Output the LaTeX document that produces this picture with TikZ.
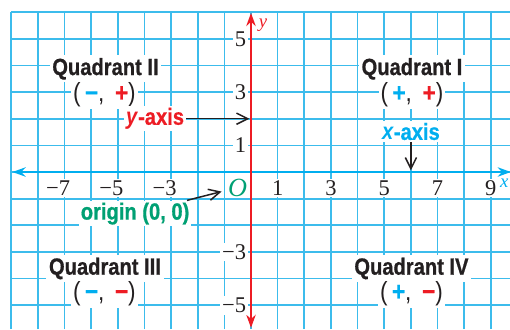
\documentclass[tikz,border=0pt]{standalone}
\usepackage{fontspec}
\setmainfont{Liberation Serif}
\newfontfamily\condsans[FakeStretch=0.86,BoldFeatures={FakeBold=0.7}]{Liberation Sans}
\usetikzlibrary{arrows.meta}
\definecolor{gridblue}{RGB}{60,188,236}
\definecolor{axisblue}{RGB}{0,174,239}
\definecolor{axisred}{RGB}{237,28,36}
\definecolor{origgreen}{RGB}{0,160,115}
\definecolor{inkblack}{RGB}{35,31,32}

\begin{document}
\begin{tikzpicture}[x=0.5cm,y=0.5cm,font=\fontsize{12}{14}\selectfont,
  lbl/.style={fill=white,inner sep=1pt,text=inkblack},
  quad/.style={fill=white,inner sep=1.5pt,text=inkblack,font=\condsans\bfseries\fontsize{12.5}{14}\selectfont},
  sgn/.style={fill=white,inner sep=1pt,text=inkblack,font=\condsans\fontsize{14}{16}\selectfont},
  callout/.style={fill=white,inner sep=1pt,font=\condsans\bfseries\fontsize{12.5}{14}\selectfont},
  pointer/.style={-{Straight Barb[length=6pt,width=6pt]},line width=0.8pt,inkblack},
  axistip/.tip={Stealth[length=7pt,width=5pt]}]
 \clip (-9.418,-5.891) rectangle (9.718,6.454);
 \draw[gridblue,line width=0.9pt,step=1] (-9,-5.891) grid (9.718,6);
 % axes
 \coordinate (xl) at (-8.95,0); \coordinate (xr) at (9.75,0);
 \coordinate (yb) at (0,-5.85); \coordinate (yt) at (0,5.97);
 \draw[axisblue,line width=1.35pt,axistip-axistip] (xl) -- (xr);
 \draw[axisred,line width=1.6pt,axistip-axistip] (yb) -- (yt);
 \node[text=axisblue,font=\itshape,inner sep=0.5pt] (xname) at (9.5,-0.42) {x};
 \node[text=axisred,font=\itshape] (yname) at (0.45,5.5) {y};
 % tick labels
 \foreach \n in {7,5,3}{\node[lbl] (xm\n) at (-\n,-0.6) {\llap{−}\n};}
 \foreach \n in {1,3,5,7,9}{\node[lbl] (xp\n) at (\n,-0.6) {\n};}
 \foreach \n in {1,3,5}{\node[lbl,anchor=east] (yp\n) at (-0.1,\n) {\n};}
 \foreach \n in {3,5}{\node[lbl,anchor=east] (ym\n) at (-0.1,-\n) {−\n};}
 \node[text=origgreen,font=\itshape\fontsize{14}{16}\selectfont] (O) at (-0.5,-0.58) {O};
 % quadrants
 \node[quad] (q1) at (6.04,3.87) {Quadrant I};
 \node[sgn] (s1) at (6.04,2.9) {(\,\textcolor{axisblue}{\bfseries +},\, \textcolor{axisred}{\bfseries +})};
 \node[quad] (q2) at (-5.46,3.87) {Quadrant II};
 \node[sgn] (s2) at (-5.5,2.9) {(\,\textcolor{axisblue}{\bfseries −},\, \textcolor{axisred}{\bfseries +})};
 \node[quad] (q3) at (-5.48,-3.62) {Quadrant III};
 \node[sgn] (s3) at (-5.5,-4.56) {(\,\textcolor{axisblue}{\bfseries −},\, \textcolor{axisred}{\bfseries −})};
 \node[quad] (q4) at (6.02,-3.62) {Quadrant IV};
 \node[sgn] (s4) at (6.02,-4.56) {(\,\textcolor{axisblue}{\bfseries +},\, \textcolor{axisred}{\bfseries −})};
 % callouts
 \node[callout,text=axisred] (ylab) at (-3.6,2.0) {\textit{y}-axis};
 \coordinate (yhit) at (-0.06,2);
 \draw[pointer] (ylab) -- (yhit);
 \node[callout,text=axisblue] (xlab) at (6,1.52) {\textit{x}-axis};
 \coordinate (xhit) at (6,0.06);
 \draw[pointer] (xlab) -- (xhit);
 \node[callout,text=origgreen] (orig) at (-4.35,-1.56) {origin (0, 0)};
 \draw[pointer] (orig) -- (O);
\end{tikzpicture}
\end{document}
